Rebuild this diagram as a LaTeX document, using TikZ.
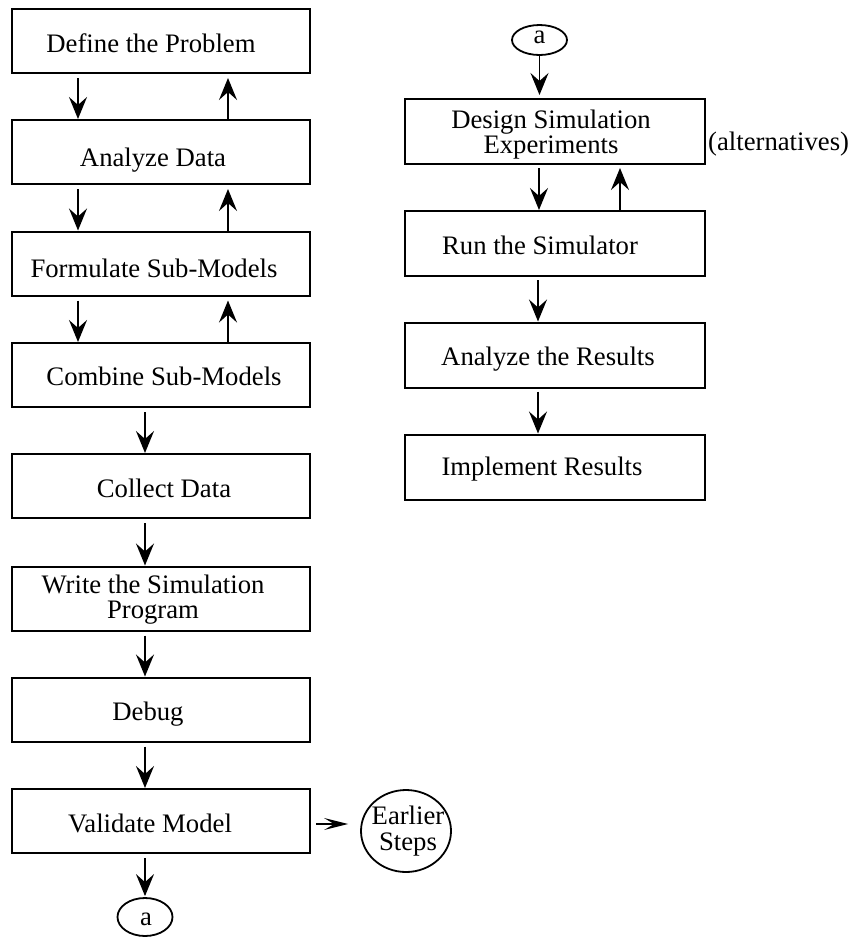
\documentclass[tikz,border=0pt]{standalone}
\usepackage{fontspec}
\setmainfont{Liberation Serif}
\usetikzlibrary{arrows.meta,shapes.geometric}
\begin{document}
\begin{tikzpicture}[x=1pt,y=-1pt,
  lbox/.style={draw, line width=2pt, minimum width=298pt, minimum height=64pt, inner sep=0pt},
  rbox/.style={draw, line width=2pt, minimum width=300pt, minimum height=65pt, inner sep=0pt},
  ell/.style={draw, ellipse, line width=1.8pt, inner sep=0pt},
  txt/.style={inner sep=0pt, font=\fontsize{26.7}{25}\selectfont},
  arr/.style={-{Stealth[length=22pt,width=18pt,inset=8pt]}, line width=1.6pt},
  harr/.style={-{Stealth[length=24pt,width=12pt,inset=10pt]}, line width=1.6pt}]
\useasboundingbox (0,0) rectangle (852,938);
% left column boxes
\node[lbox] (b1) at (161,41) {};
\node[lbox] (b2) at (161,152) {};
\node[lbox] (b3) at (161,263.5) {};
\node[lbox] (b4) at (161,375) {};
\node[lbox] (b5) at (161,486) {};
\node[lbox] (b6) at (161,598.5) {};
\node[lbox] (b7) at (161,709.5) {};
\node[lbox] (b8) at (161,821) {};
\node[txt,anchor=base] (t1) at (151,52) {Define the Problem};
\node[txt,anchor=base] (t2) at (153,166) {Analyze Data};
\node[txt,anchor=base] (t3) at (154,277) {Formulate Sub-Models};
\node[txt,anchor=base] (t4) at (164,385) {Combine Sub-Models};
\node[txt,anchor=base] (t5) at (164,497) {Collect Data};
\node[txt,align=center] (t6) at (153,599.5) {Write the Simulation\\Program};
\node[txt,anchor=base] (t7) at (148,720) {Debug};
\node[txt,anchor=base] (t8) at (150,832) {Validate Model};
% connectors left
\draw[arr,shorten <=4pt] ([xshift=-83pt]b1.south) -- ([xshift=-83pt]b2.north);
\draw[arr,shorten >=4pt] ([xshift=67pt]b2.north) -- ([xshift=67pt]b1.south);
\draw[arr,shorten <=4pt] ([xshift=-83pt]b2.south) -- ([xshift=-83pt]b3.north);
\draw[arr,shorten >=4pt] ([xshift=67pt]b3.north) -- ([xshift=67pt]b2.south);
\draw[arr,shorten <=4pt] ([xshift=-83pt]b3.south) -- ([xshift=-83pt]b4.north);
\draw[arr,shorten >=4pt] ([xshift=67pt]b4.north) -- ([xshift=67pt]b3.south);
\draw[arr,shorten <=4pt] ([xshift=-16pt]b4.south) -- ([xshift=-16pt]b5.north);
\draw[arr,shorten <=4pt] ([xshift=-16pt]b5.south) -- ([xshift=-16pt]b6.north);
\draw[arr,shorten <=4pt] ([xshift=-16pt]b6.south) -- ([xshift=-16pt]b7.north);
\draw[arr,shorten <=4pt] ([xshift=-16pt]b7.south) -- ([xshift=-16pt]b8.north);
% connector circle a (bottom)
\node[ell, minimum width=55pt, minimum height=38pt] (a1) at (145,917) {};
\node[txt] (ta1) at (146,919) {a};
\draw[arr,shorten <=4pt,shorten >=1pt] ([xshift=-16pt]b8.south) -- (a1.north);
% earlier steps
\node[ell, minimum width=90pt, minimum height=82pt] (es) at (406,831) {};
\node[txt,align=center,font=\fontsize{26.7}{26}\selectfont] (tes) at (408,830.6) {Earlier\\Steps};
\draw[harr,shorten <=5pt,shorten >=12pt] ([yshift=-3pt]b8.east) -- ([yshift=-3pt]b8.east -| es.west);
% right column
\node[ell, minimum width=55pt, minimum height=30pt] (a2) at (539.5,40) {};
\node[txt] (ta2) at (539.5,37.5) {a};
\node[rbox] (r1) at (555,131.5) {};
\node[rbox] (r2) at (555,243.5) {};
\node[rbox] (r3) at (555,355) {};
\node[rbox] (r4) at (555,467) {};
\node[txt,align=center] (tr1) at (551,134.4) {Design Simulation\\Experiments};
\node[txt,anchor=base] (tr2) at (540,254) {Run the Simulator};
\node[txt,anchor=base] (tr3) at (548,365) {Analyze the Results};
\node[txt,anchor=base] (tr4) at (542,475) {Implement Results};
\node[txt,anchor=base west] (alt) at (708,150) {(alternatives)};
\draw[arr,shorten >=3pt] (a2.south) -- (a2.south |- r1.north);
\draw[arr,shorten <=3pt] ([xshift=-16pt]r1.south) -- ([xshift=-16pt]r2.north);
\draw[arr,shorten >=3pt] ([xshift=65pt]r2.north) -- ([xshift=65pt]r1.south);
\draw[arr,shorten <=3pt] ([xshift=-17pt]r2.south) -- ([xshift=-17pt]r3.north);
\draw[arr,shorten <=3pt] ([xshift=-17pt]r3.south) -- ([xshift=-17pt]r4.north);
\end{tikzpicture}
\end{document}
